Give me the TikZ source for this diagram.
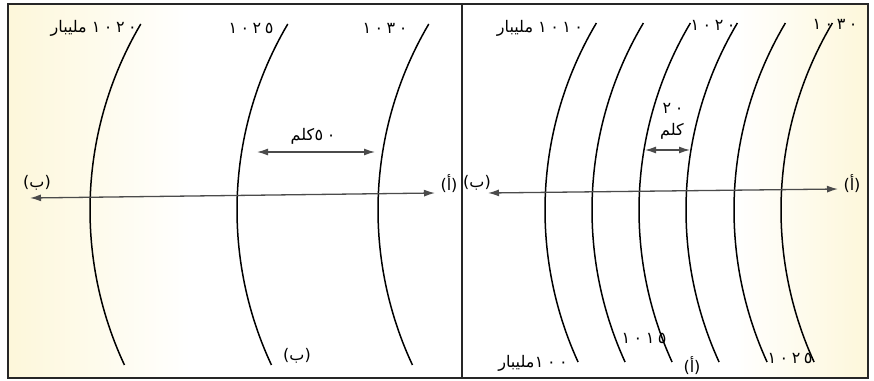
\documentclass[tikz,border=0pt]{standalone}
\usepackage{fontspec}
\newfontfamily\arfont[Script=Arabic]{DejaVu Sans}
\newfontfamily\ardig[Script=Arabic,LetterSpace=22]{DejaVu Sans}
\TeXXeTstate=1
\usetikzlibrary{arrows.meta}
\definecolor{cream}{RGB}{253,247,218}
\definecolor{axisgray}{RGB}{75,75,75}
\newcommand\dg[1]{{\ardig #1}}
\begin{document}
\begin{tikzpicture}[x=1pt,y=-1pt,
  isobar/.style={line width=1.5pt, black},
  axis/.style={line width=1.3pt, axisgray, {Latex[length=11pt,width=7pt]}-{Latex[length=11pt,width=7pt]}},
  lbl/.style={font=\arfont\fontsize{16}{18}\selectfont, inner sep=0pt},
  frame/.style={line width=1.6pt, black!85}
]
\useasboundingbox (0,0) rectangle (874,380);
\fill[white] (0,0) rectangle (874,380);
\shade[left color=cream, right color=white] (8,4) rectangle (190,378);
\shade[left color=white, right color=cream] (735,4) rectangle (868,378);
\draw[frame] (8,4) rectangle (868,378);
\draw[frame] (462,4) -- (462,378);

% isobars, left panel
\foreach \c in {90,237,378}
  \draw[isobar] plot[variable=\t, domain=24:365, samples=60]
    ({\c + 366 - 366*sqrt(1-((\t-210)/366)^2)}, \t);
% isobars, right panel
\foreach \c in {545,592,639,686,734,781}
  \draw[isobar] plot[variable=\t, domain=23:362, samples=60]
    ({\c + 366 - 366*sqrt(1-((\t-210)/366)^2)}, \t);

% main axes
\coordinate (LB) at (30,198);
\coordinate (LA) at (435,193);
\draw[axis] (LB) -- (LA);
\coordinate (RB) at (488,193);
\coordinate (RA) at (838,189);
\draw[axis] (RB) -- (RA);

% distance arrows
\coordinate (D1a) at (257,152);
\coordinate (D1b) at (375,152);
\draw[axis] (D1a) -- (D1b);
\coordinate (D2a) at (645,150);
\coordinate (D2b) at (690,150);
\draw[axis] (D2a) -- (D2b);

% labels, left panel
\node[lbl, anchor=east] (l1020) at (137,28) {\beginR \dg{١٠٢٠} مليبار\endR};
\node[lbl] (l1025) at (251,28) {\dg{١٠٢٥}};
\node[lbl] (l1030) at (385,28) {\dg{١٠٣٠}};
\node[lbl] (l50) at (313,136) {\beginR \dg{٥٠}\kern0.5pt كلم\endR};
\node[lbl] (lB) at (37,183) {\beginR (ب)\endR};
\node[lbl] (lA) at (449,184) {\beginR (أ)\endR};
\node[lbl] (lBb) at (297,356) {\beginR (ب)\endR};

% labels, right panel
\node[lbl] (r1010) at (540,28) {\beginR \dg{١٠١٠} مليبار\endR};
\node[lbl] (r1020) at (713,25) {\dg{١٠٢٠}};
\node[lbl] (r1030) at (835,24) {\dg{١٠٣٠}};
\node[lbl] (r20) at (673,108) {\dg{٢٠}};
\node[lbl] (rkm) at (672,131) {\beginR كلم\endR};
\node[lbl] (rB) at (477,183) {\beginR (ب)\endR};
\node[lbl] (rA) at (852,184) {\beginR (أ)\endR};
\node[lbl] (r1000) at (533,363) {\beginR \dg{١٠٠}\kern0.5pt مليبار\endR};
\node[lbl] (r1015) at (644,338) {\dg{١٠١٥}};
\node[lbl] (rAb) at (692,366) {\beginR (أ)\endR};
\node[lbl] (r1025) at (790,358) {\dg{١٠٢٥}};
\end{tikzpicture}
\end{document}
